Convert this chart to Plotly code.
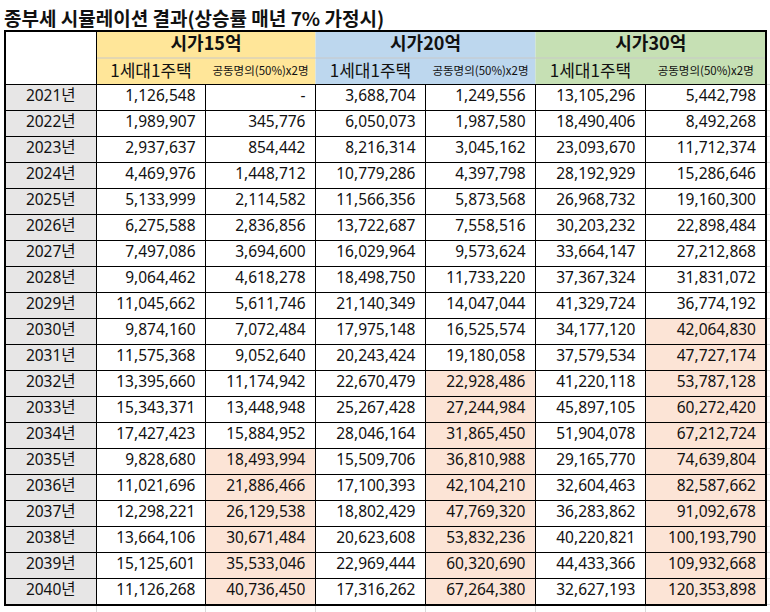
import plotly.graph_objects as go

# Table data.
title = "종부세 시뮬레이션 결과(상승률 매년 7% 가정시)"
years = [2021, 2022, 2023, 2024, 2025, 2026, 2027, 2028, 2029, 2030,
         2031, 2032, 2033, 2034, 2035, 2036, 2037, 2038, 2039, 2040]
groups = ["시가15억", "시가20억", "시가30억"]
sub_labels = ["1세대1주택", "공동명의(50%)x2명"]

single_15 = [1126548, 1989907, 2937637, 4469976, 5133999, 6275588, 7497086,
             9064462, 11045662, 9874160, 11575368, 13395660, 15343371,
             17427423, 9828680, 11021696, 12298221, 13664106, 15125601,
             11126268]
joint_15 = [None, 345776, 854442, 1448712, 2114582, 2836856, 3694600,
            4618278, 5611746, 7072484, 9052640, 11174942, 13448948,
            15884952, 18493994, 21886466, 26129538, 30671484, 35533046,
            40736450]
single_20 = [3688704, 6050073, 8216314, 10779286, 11566356, 13722687,
             16029964, 18498750, 21140349, 17975148, 20243424, 22670479,
             25267428, 28046164, 15509706, 17100393, 18802429, 20623608,
             22969444, 17316262]
joint_20 = [1249556, 1987580, 3045162, 4397798, 5873568, 7558516, 9573624,
            11733220, 14047044, 16525574, 19180058, 22928486, 27244984,
            31865450, 36810988, 42104210, 47769320, 53832236, 60320690,
            67264380]
single_30 = [13105296, 18490406, 23093670, 28192929, 26968732, 30203232,
             33664147, 37367324, 41329724, 34177120, 37579534, 41220118,
             45897105, 51904078, 29165770, 32604463, 36283862, 40220821,
             44433366, 32627193]
joint_30 = [5442798, 8492268, 11712374, 15286646, 19160300, 22898484,
            27212868, 31831072, 36774192, 42064830, 47727174, 53787128,
            60272420, 67212724, 74639804, 82587662, 91092678, 100193790,
            109932668, 120353898]

value_cols = [single_15, joint_15, single_20, joint_20, single_30, joint_30]

# Layout in pixels (axes are set up 1 unit = 1 pixel).
W, H = 770, 612
col_edges = [5, 96.5, 205.5, 315.5, 425.5, 535.5, 645.5, 766]
TOP, MID, BODY_TOP, ROW_H = 31, 58, 84.5, 26
group_colors = ["#FFE699", "#BDD7EE", "#C6E0B4"]
year_fill = "#E7E6E6"
hi_fill = "#FCE4D6"
font_cjk = "Noto Sans CJK KR"
font_num = "Noto Sans, Noto Sans CJK KR"
ink = "#111111"

body_bottom = BODY_TOP + ROW_H * len(years)
row_mid = [BODY_TOP + ROW_H * (i + 0.5) for i in range(len(years))]

fig = go.Figure()
shapes = []


def rect(x0, y0, x1, y1, fill):
    shapes.append(dict(type="rect", xref="x", yref="y", x0=x0, y0=y0,
                       x1=x1, y1=y1, fillcolor=fill, line_width=0,
                       layer="below"))


def line(x0, y0, x1, y1, color="black", width=1):
    shapes.append(dict(type="line", xref="x", yref="y", x0=x0, y0=y0,
                       x1=x1, y1=y1, line=dict(color=color, width=width),
                       layer="below"))


# Header fills
for g in range(3):
    rect(col_edges[1 + 2 * g], TOP, col_edges[3 + 2 * g], BODY_TOP,
         group_colors[g])

# Body fills: year column and cells where joint tax exceeds the single one
for i in range(len(years)):
    y0, y1 = BODY_TOP + ROW_H * i, BODY_TOP + ROW_H * (i + 1)
    rect(col_edges[0], y0, col_edges[1], y1, year_fill)
    for g in range(3):
        single, joint = value_cols[2 * g][i], value_cols[2 * g + 1][i]
        if joint is not None and joint > single:
            rect(col_edges[2 + 2 * g], y0, col_edges[3 + 2 * g], y1, hi_fill)

# Excel gridlines outside the table
for x in col_edges[1:-1]:
    line(x, body_bottom + 1, x, H, color="#D9D9D9")
for i in range(len(years) + 1):
    y = BODY_TOP + ROW_H * i
    line(col_edges[-1] + 1, y, W, y, color="#D9D9D9")

# Borders
line(col_edges[1], MID, col_edges[-1], MID, color="#C8C8C8")
line(col_edges[0], BODY_TOP, col_edges[-1], BODY_TOP)
for i in range(1, len(years)):
    y = BODY_TOP + ROW_H * i
    line(col_edges[0], y, col_edges[-1], y)
line(col_edges[1], TOP, col_edges[1], body_bottom)
for x in col_edges[2:-1]:
    line(x, BODY_TOP, x, body_bottom)
shapes.append(dict(type="rect", xref="x", yref="y", x0=col_edges[0], y0=TOP,
                   x1=col_edges[-1], y1=body_bottom + 0.5,
                   line=dict(color="black", width=2), layer="below"))

# Header texts
for g in range(3):
    cx = (col_edges[1 + 2 * g] + col_edges[3 + 2 * g]) / 2
    fig.add_trace(go.Scatter(
        x=[cx], y=[(TOP + MID) / 2 + 1], mode="text",
        text=[f"<b>{groups[g]}</b>"],
        textfont=dict(family=font_cjk, size=18, color=ink),
        hoverinfo="skip"))
    for k in range(2):
        c = 1 + 2 * g + k
        fig.add_trace(go.Scatter(
            x=[(col_edges[c] + col_edges[c + 1]) / 2],
            y=[(MID + BODY_TOP) / 2 + 1], mode="text", text=[sub_labels[k]],
            textfont=dict(family=font_cjk, size=17 if k == 0 else 11.5,
                          color=ink),
            hoverinfo="skip"))

# Year labels
fig.add_trace(go.Scatter(
    x=[(col_edges[0] + col_edges[1]) / 2] * len(years), y=row_mid,
    mode="text", text=[f"{y}년" for y in years],
    textfont=dict(family=font_num, size=15.5, color=ink), hoverinfo="skip"))

# Values, right aligned
for c, vals in enumerate(value_cols):
    fig.add_trace(go.Scatter(
        x=[col_edges[c + 2] - 10] * len(vals), y=row_mid, mode="text",
        textposition="middle left",
        text=["-" if v is None else f"{v:,}" for v in vals],
        textfont=dict(family=font_num, size=15.5, color=ink),
        hoverinfo="skip"))

fig.add_annotation(x=2, y=17, xref="x", yref="y", text=f"<b>{title}</b>",
                   showarrow=False, xanchor="left", yanchor="middle",
                   font=dict(family=font_cjk, size=19, color=ink))

fig.update_layout(
    width=W, height=H, margin=dict(l=0, r=0, t=0, b=0),
    paper_bgcolor="white", plot_bgcolor="white", showlegend=False,
    shapes=shapes,
    xaxis=dict(range=[0, W], visible=False, fixedrange=True),
    yaxis=dict(range=[H, 0], visible=False, fixedrange=True),
)

# Drop the browser's default page margin so the figure sits at (0, 0).
fig.write_html("out.html", config={"displayModeBar": False},
               post_script="document.body.style.margin='0';")
